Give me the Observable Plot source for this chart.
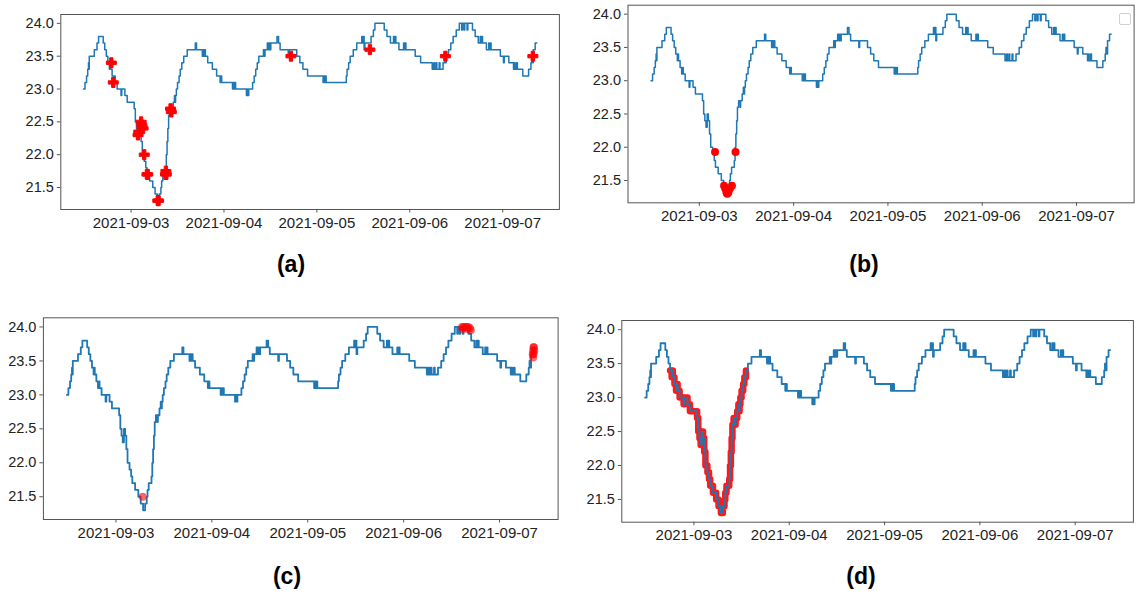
<!DOCTYPE html>
<html><head><meta charset="utf-8">
<script src="https://cdn.jsdelivr.net/npm/d3@7"></script>
<script src="https://cdn.jsdelivr.net/npm/@observablehq/plot@0.6"></script>
<style>
body{margin:0;background:#fff;}
#fig{position:relative;width:1145px;height:591px;overflow:hidden;font-family:"Liberation Sans",Arial,sans-serif;}
.panel{position:absolute;}
.lab{position:absolute;font-weight:bold;font-size:23px;transform:translate(-50%,-50%);color:#000;}
.legendbox{position:absolute;border:1px solid #d0d0d0;border-radius:2px;background:#fff;}
</style></head><body><div id="fig"></div>
<script>
// ---- data (hours relative to 2021-09-03 00:00 UTC) ----
const baseDate = "2021-09-03T00:00:00Z";
const hours = [
 -12.3,-11.9,-11.5,-11.2,-11.0,-10.9,-10.8,-9.5,-8.8,-8.4,-7.2,-6.8,-6.4,-6.0,-5.6,-5.4,-5.3,-4.9,-4.5,-4.2,-4.1,-3.6,-2.6,-2.4,-1.6,-1.0,
 0.8,1.1,1.4,1.7,2.0,2.3,2.6,2.9,3.4,3.8,4.1,4.8,5.6,6.2,6.8,7.3,7.7,7.9,8.2,8.9,9.1,9.3,9.5,9.7,10.0,10.4,10.5,10.9,11.2,11.4,11.5,11.7,12.0,12.4,12.7,13.1,13.6,14.5,
 16.6,16.9,18.4,18.6,18.8,19.0,19.2,19.8,21.0,22.1,23.0,23.2,23.4,26.2,26.4,26.6,26.8,27.0,29.8,30.0,30.2,30.4,31.4,31.8,32.2,32.6,33.0,34.2,34.4,34.6,
 35.2,35.5,35.7,35.9,36.1,37.7,38.1,38.5,40.6,40.8,42.8,43.6,44.4,45.6,49.6,49.8,50.0,50.2,50.4,55.6,55.8,56.2,56.6,57.4,58.3,59.6,59.8,60.0,60.2,60.4,
 62.0,62.6,63.0,65.4,66.1,67.0,67.8,68.0,68.2,68.4,69.2,70.4,70.6,70.8,71.0,73.4,74.8,77.8,78.2,78.4,78.8,79.0,79.6,79.8,80.6,81.4,82.0,82.6,83.2,84.0,
 84.8,85.4,85.6,86.0,86.2,86.8,87.0,88.2,88.9,89.7,90.2,90.4,90.6,90.8,91.8,92.4,92.6,92.8,93.0,95.4,96.2,96.4,97.6,98.8,99.0,99.2,99.6,99.8,101.2,102.7,
 103.3,103.5,103.7,103.9,104.4,104.8
];
const temps = [
 23.0,23.1,23.2,23.3,23.4,23.3,23.5,23.6,23.7,23.8,23.7,23.6,23.5,23.4,23.3,23.4,23.3,23.2,23.1,23.2,23.1,23.0,22.9,23.0,22.9,22.8,
 22.7,22.5,22.4,22.3,22.5,22.4,22.2,22.0,21.9,21.8,21.7,21.6,21.5,21.4,21.3,21.4,21.5,21.6,21.7,21.8,22.0,22.2,22.4,22.6,22.7,22.6,22.7,22.8,22.9,22.8,22.9,23.0,23.1,23.2,23.3,23.4,23.5,23.6,
 23.7,23.6,23.5,23.6,23.5,23.6,23.5,23.4,23.3,23.2,23.1,23.2,23.1,23.0,23.1,23.0,23.1,23.0,22.9,23.0,22.9,23.0,23.1,23.2,23.3,23.4,23.5,23.6,23.5,23.6,
 23.7,23.6,23.7,23.6,23.7,23.8,23.7,23.6,23.5,23.6,23.5,23.4,23.3,23.2,23.1,23.2,23.1,23.2,23.1,23.2,23.3,23.4,23.5,23.6,23.7,23.8,23.7,23.8,23.6,23.7,
 23.8,23.9,24.0,23.9,23.8,23.7,23.8,23.7,23.8,23.7,23.6,23.7,23.6,23.7,23.6,23.5,23.4,23.3,23.4,23.3,23.4,23.3,23.4,23.3,23.4,23.5,23.6,23.7,23.8,23.9,
 24.0,23.9,24.0,23.9,24.0,23.9,24.0,23.9,23.8,23.7,23.8,23.7,23.8,23.7,23.6,23.7,23.6,23.7,23.6,23.5,23.4,23.5,23.4,23.3,23.4,23.3,23.4,23.3,23.2,23.3,
 23.4,23.5,23.4,23.6,23.7,23.7
];
// anomalies, panel (a)
const aHours = [-5.1,-4.6,1.8,2.0,2.6,2.8,3.1,3.4,4.1,4.3,6.9,7.1,8.9,9.0,9.1,10.2,10.4,41.3,61.7,81.2,103.8];
const aTemps = [23.4,23.1,22.3,22.35,22.5,22.45,22.4,22.0,21.7,21.7,21.3,21.3,21.7,21.75,21.7,22.7,22.65,23.5,23.6,23.5,23.5];
// anomalies, panel (b)
const bHours = [4.0,9.2,6.3,6.6,6.9,7.1,7.4,7.8,8.3];
const bTemps = [21.93,21.93,21.42,21.38,21.32,21.3,21.32,21.38,21.42];
// anomalies, panel (c)
const cHours = [6.7,86.6,87.0,87.4,87.8,88.2,88.6,86.8,88.0,88.8,104.3,104.4,104.5,104.6,104.7,104.5,104.4];
const cTemps = [21.5,24.0,24.0,24.0,24.0,24.0,23.98,23.97,23.97,23.95,23.6,23.65,23.7,23.7,23.65,23.6,23.55];
// anomalous segment, panel (d)
const dRange = [-6.0, 13.3];
const tickDays = ["2021-09-03","2021-09-04","2021-09-05","2021-09-06","2021-09-07"];
const yTicks = [21.5,22.0,22.5,23.0,23.5,24.0];
const panelLabels = ["(a)","(b)","(c)","(d)"];

// ---- build ----
const t0 = Date.parse(baseDate);
const toDate = h => new Date(t0 + h * 3600e3);
const series = hours.map((h, i) => ({t: toDate(h), v: temps[i], h}));
const pts = (H, V) => H.map((h, i) => ({t: toDate(h), v: V[i]}));
const [h0, h1] = d3.extent(hours), hp = (h1 - h0) * 0.05;
const [v0, v1] = d3.extent(temps), vp = (v1 - v0) * 0.05;
const xDomain = [toDate(h0 - hp), toDate(h1 + hp)];
const yDomain = [v0 - vp, v1 + vp];
const xTicks = tickDays.map(d => new Date(d + "T00:00:00Z"));

const BLUE = "#1f77b4";
function panel(opts, extra) {
  return Plot.plot({
    width: opts.width, height: opts.height,
    marginLeft: opts.ml, marginRight: opts.mr, marginTop: opts.mt, marginBottom: opts.mb,
    style: {fontFamily: '"Liberation Sans", Arial, sans-serif', fontSize: "14.5px", color: "#222", background: "transparent", overflow: "visible"},
    x: {type: "utc", domain: xDomain},
    y: {domain: yDomain},
    marks: [
      ...(extra.under || []),
      Plot.line(series, {x: "t", y: "v", curve: "step-after", stroke: BLUE, strokeWidth: opts.lw || 1.5}),
      ...(extra.over || []),
      Plot.frame({stroke: "#555", strokeWidth: 1}),
      Plot.axisX({ticks: xTicks, tickFormat: d3.utcFormat("%Y-%m-%d"), tickSize: 3.5, tickPadding: 4, stroke: "#555", fill: "#222", fontSize: 15, label: null}),
      Plot.axisY({ticks: yTicks, tickFormat: d3.format(".1f"), tickSize: 3.5, tickPadding: 3.5, stroke: "#555", fill: "#222", fontSize: 14.5, label: null})
    ]
  });
}

const fig = document.getElementById("fig");
function place(node, left, top) {
  node.classList.add("panel");
  node.style.left = left + "px"; node.style.top = top + "px";
  fig.appendChild(node);
}

place(panel({width: 575, height: 240, ml: 60.3, mr: 16.1, mt: 14, mb: 31}, {
  over: [Plot.dot(pts(aHours, aTemps), {x: "t", y: "v", symbol: "cross", r: 4.2, fill: "red", stroke: "red", strokeWidth: 1, strokeLinejoin: "round"})]
}), 0, 0);

place(panel({width: 573, height: 240, ml: 55.5, mr: 11.4, mt: 4.7, mb: 37.7}, {
  over: [Plot.dot(pts(bHours, bTemps), {x: "t", y: "v", r: 4, fill: "red"})]
}), 572, 0);

place(panel({width: 575, height: 250, ml: 42.9, mr: 17.4, mt: 17.3, mb: 31, lw: 1.8}, {
  over: [Plot.dot(pts(cHours, cTemps), {x: "t", y: "v", r: 4, fill: "red", fillOpacity: 0.6})]
}), 0, 300);

place(panel({width: 573, height: 250, ml: 49.3, mr: 12.1, mt: 20, mb: 28.3, lw: 1.8}, {
  under: [Plot.line(series.filter(d => d.h >= dRange[0] && d.h <= dRange[1]), {x: "t", y: "v", curve: "step-after", stroke: "red", strokeWidth: 6.5, strokeOpacity: 0.9, strokeLinejoin: "round", strokeLinecap: "round"})]
}), 572, 300);

// empty legend box in panel (b)
const lg = document.createElement("div");
lg.className = "legendbox";
Object.assign(lg.style, {left: "1119px", top: "13px", width: "10px", height: "10px"});
fig.appendChild(lg);

const labPos = [[291, 264], [864, 264], [287, 576], [861, 576]];
panelLabels.forEach((s, i) => {
  const d = document.createElement("div");
  d.className = "lab"; d.textContent = s;
  d.style.left = labPos[i][0] + "px"; d.style.top = labPos[i][1] + "px";
  fig.appendChild(d);
});
</script></body></html>
